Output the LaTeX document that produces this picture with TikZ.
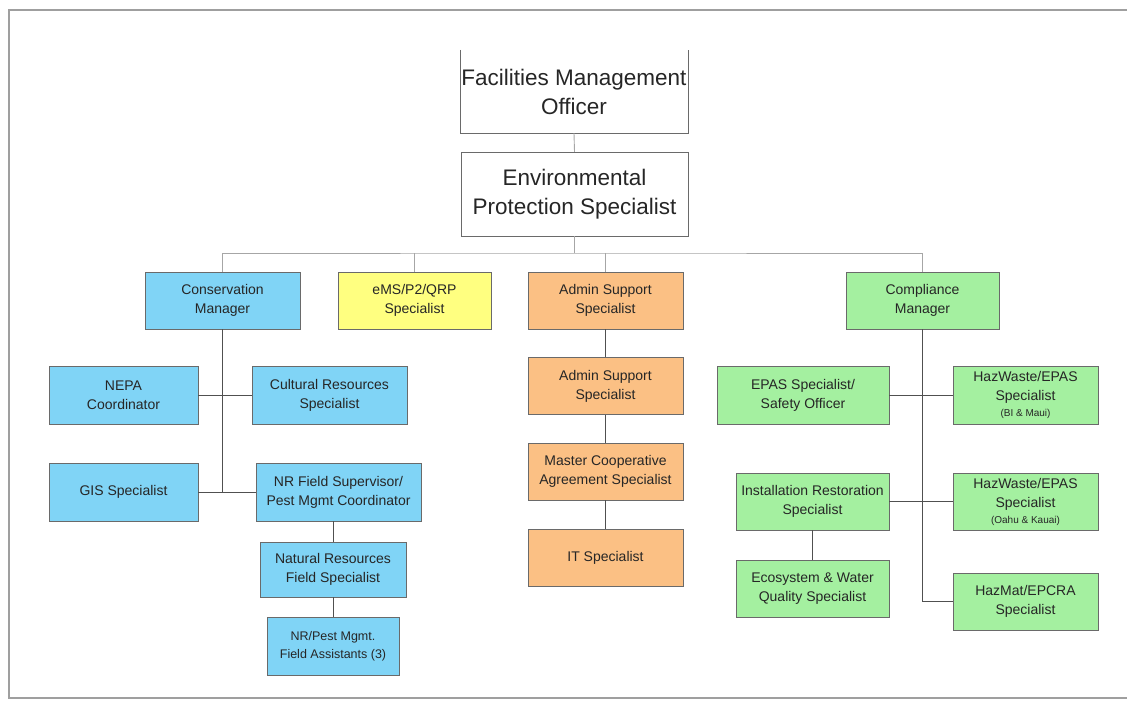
\documentclass[tikz,border=0pt]{standalone}
\usepackage{fontspec}
\setmainfont{Liberation Sans}
\usetikzlibrary{positioning}
\definecolor{consblue}{HTML}{80D4F6}
\definecolor{emsyellow}{HTML}{FFFF80}
\definecolor{admorange}{HTML}{FBC084}
\definecolor{compgreen}{HTML}{A4F0A0}
\definecolor{boxline}{HTML}{6A6A6A}
\definecolor{linkline}{HTML}{505050}
\tikzset{
	box/.style = {draw=boxline, inner sep=0pt, align=center, minimum width=155pt, minimum height=57pt,
		font=\fontsize{14}{19}\selectfont, text=black!85},
	topbox/.style = {box, fill=white, minimum width=227pt, font=\fontsize{22.5}{29}\selectfont},
	cons/.style = {box, fill=consblue},
	ems/.style = {box, fill=emsyellow},
	adm/.style = {box, fill=admorange},
	comp/.style = {box, fill=compgreen},
	link/.style = {draw=linkline, line width=0.9pt},
	toplink/.style = {draw=gray!70, line width=0.9pt},
	frame/.style = {draw=gray!75, line width=1.5pt}
}
\newcommand{\smallnote}[1]{{\fontsize{10}{11}\selectfont #1}}
\begin{document}
\begin{tikzpicture}[x=1pt, y=-1pt]
	\useasboundingbox (0,0) rectangle (1127,704);
	\draw[frame] (1127,10) -- (9,10) -- (9,698) -- (1127,698);

	\node (fmo) [topbox, draw=none, minimum height=83pt] at (574,91.5) {Facilities Management\\Officer};
	\draw[boxline] (fmo.north west) -- (fmo.south west) -- (fmo.south east) -- (fmo.north east);
	\node (eps) [topbox, minimum height=84pt] at (574.5,194) {Environmental\\Protection Specialist};

	\node (cons) [cons] at (222.5,300.5) {Conservation\\Manager};
	\node (ems) [ems, minimum width=153pt] at (414.5,300.5) {eMS/P2/QRP\\Specialist};
	\node (adm1) [adm] at (605.5,300.5) {Admin Support\\Specialist};
	\node (comp) [comp, minimum width=153pt] at (922.5,300.5) {Compliance\\Manager};

	\node (nepa) [cons, minimum width=149pt, minimum height=58pt] at (123.5,395) {NEPA\\Coordinator};
	\node (cult) [cons, minimum height=58pt] at (329.5,395) {Cultural Resources\\Specialist};
	\node (gis) [cons, minimum width=149pt, minimum height=58pt] at (123.5,492) {GIS Specialist};
	\node (nrsup) [cons, minimum width=165pt, minimum height=58pt] at (338.5,492) {NR Field Supervisor/\\Pest Mgmt Coordinator};
	\node (nrfs) [cons, minimum width=146pt, minimum height=55pt] at (333,569.5) {Natural Resources\\Field Specialist};
	\node (nrfa) [cons, minimum width=132pt, minimum height=58pt, below=20pt of nrfs,
		font=\fontsize{12.5}{18}\selectfont] {NR/Pest Mgmt.\\Field Assistants (3)};

	\node (adm2) [adm, below=28pt of adm1] {Admin Support\\Specialist};
	\node (mca) [adm, below=28pt of adm2] {Master Cooperative\\Agreement Specialist};
	\node (its) [adm, below=29pt of mca] {IT Specialist};

	\node (epas) [comp, minimum width=172pt, minimum height=58pt] at (803,395) {EPAS Specialist/\\Safety Officer};
	\node (hwbm) [comp, minimum width=145pt, minimum height=58pt] at (1025.5,395) {HazWaste/EPAS\\Specialist\\[-3pt]\smallnote{(BI \& Maui)}};
	\node (irs) [comp, minimum width=153pt] at (812.5,501.5) {Installation Restoration\\Specialist};
	\node (hwok) [comp, minimum width=145pt] at (1025.5,501.5) {HazWaste/EPAS\\Specialist\\[-3pt]\smallnote{(Oahu \& Kauai)}};
	\node (eco) [comp, minimum width=153pt, below=30pt of irs] {Ecosystem \& Water\\Quality Specialist};
	\node (hzm) [comp, minimum width=145pt] at (1025.5,601.5) {HazMat/EPCRA\\Specialist};

	\coordinate (bus) at (574.5,253);
	\path[toplink] (fmo.south) -- (eps.north);
	\path[toplink] (eps.south) -- (bus);
	\path[toplink] (cons.north) |- (bus) -| (comp.north);
	\path[toplink] (ems.north) -- (ems.north |- bus);
	\path[toplink] (adm1.north) -- (adm1.north |- bus);

	\path[link] (cons.south) -- (cons.south |- gis.east);
	\path[link] (nepa.east) -- (cult.west);
	\path[link] (gis.east) -- (nrsup.west);
	\path[link] (nrfs.north |- nrsup.south) -- (nrfs.north);
	\path[link] (nrfs.south) -- (nrfa.north);

	\path[link] (adm1.south) -- (adm2.north);
	\path[link] (adm2.south) -- (mca.north);
	\path[link] (mca.south) -- (its.north);

	\path[link] (comp.south) |- (hzm.west);
	\path[link] (epas.east) -- (hwbm.west);
	\path[link] (irs.east) -- (hwok.west);
	\path[link] (irs.south) -- (eco.north);
\end{tikzpicture}
\end{document}
